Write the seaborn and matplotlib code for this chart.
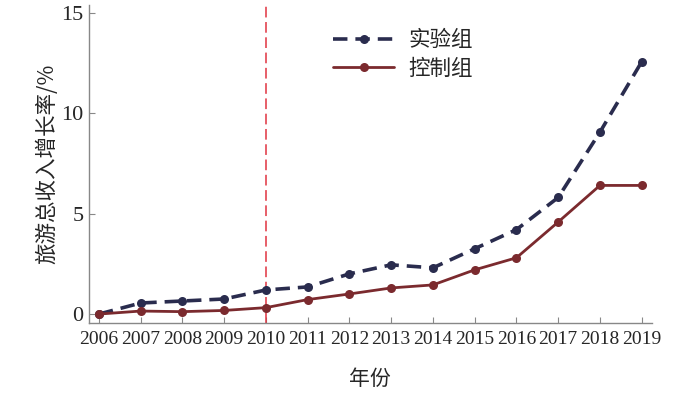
import matplotlib
matplotlib.use('Agg')
import matplotlib.pyplot as plt
import seaborn as sns
import pandas as pd

years = list(range(2006, 2020))
treatment = [0.0, 0.55, 0.65, 0.75, 1.2, 1.35, 2.0, 2.45, 2.3, 3.25, 4.2, 5.8, 9.05, 12.55]
control = [0.0, 0.15, 0.12, 0.18, 0.32, 0.72, 1.0, 1.3, 1.45, 2.2, 2.8, 4.58, 6.4, 6.4]
policy_year = 2010

df = pd.DataFrame({'year': years, 'treatment': treatment, 'control': control})

sns.set_style('ticks')
plt.rcParams['font.family'] = ['Liberation Serif', 'Noto Sans CJK SC']
cjk = ['Noto Sans CJK SC', 'DejaVu Sans']

fig = plt.figure(figsize=(7, 3.95), dpi=100)
ax = fig.add_axes([0.127, 0.182, 0.804, 0.805])

ax.axvline(policy_year, color='#e03340', lw=1.1, ls=(0, (7, 3)), zorder=1)

sns.lineplot(data=df, x='year', y='treatment', ax=ax, color='#2a2c4e',
             lw=2.6, marker='o', markersize=6.5, markeredgewidth=0,
             dashes=False, linestyle=(0, (4, 2.2)), label='实验组')
sns.lineplot(data=df, x='year', y='control', ax=ax, color='#7b2a2e',
             lw=2.0, marker='o', markersize=6.5, markeredgewidth=0,
             label='控制组')

ax.set_xlim(2006 - 0.24, 2019 + 0.24)
ax.set_ylim(-0.45, 15.37)
ax.set_xticks(years)
ax.set_yticks([0, 5, 10, 15])
ax.tick_params(axis='both', direction='in', length=4, width=0.8, color='#888888',
               labelsize=14, pad=6)
ax.tick_params(axis='y', labelsize=16, pad=4)
sns.despine(ax=ax)
for s in ['left', 'bottom']:
    ax.spines[s].set_color('#888888')
    ax.spines[s].set_linewidth(1.0)

ax.set_xlabel('年份', fontsize=15, family=cjk, labelpad=14)
ax.set_ylabel('旅游总收入增长率/%', fontsize=15.5, family=['Noto Sans CJK SC', 'Liberation Serif'], labelpad=2)

leg = ax.legend(loc='upper left', bbox_to_anchor=(0.40, 0.985), frameon=False,
                prop={'family': cjk, 'size': 15.5}, handlelength=2.8,
                handletextpad=0.7, labelspacing=0.3)

fig.savefig('out.png', dpi=100)
